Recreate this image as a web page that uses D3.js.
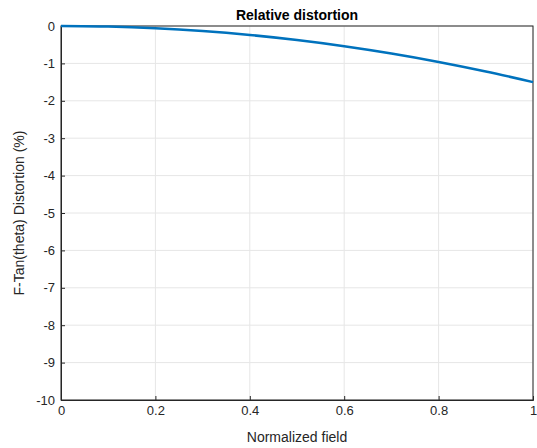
<!DOCTYPE html>
<html><head><meta charset="utf-8">
<script src="https://cdn.jsdelivr.net/npm/d3@7"></script>
<style>body{margin:0;background:#fff}text{font-family:Arial,"Liberation Sans",sans-serif}</style>
</head><body>
<svg id="c" width="537" height="448"></svg>
<script>
var fieldX = [0,0.1,0.2,0.3,0.4,0.5,0.6,0.7,0.8,0.9,1];
var distortion = [0,-0.015,-0.06,-0.135,-0.24,-0.375,-0.54,-0.735,-0.96,-1.215,-1.5];
var xTicks = [0,0.2,0.4,0.6,0.8,1];
var yTicks = [0,-1,-2,-3,-4,-5,-6,-7,-8,-9,-10];

var svg = d3.select('#c');
var L = 61, R = 533, T = 26, B = 400;
var x = d3.scaleLinear().domain([0,1]).range([L,R]);
var y = d3.scaleLinear().domain([-10,0]).range([B,T]);

// grid
svg.append('g').selectAll('line').data(xTicks).enter().append('line')
	.attr('x1',function(d){return x(d);}).attr('x2',function(d){return x(d);})
	.attr('y1',T).attr('y2',B).attr('stroke','#e6e6e6');
svg.append('g').selectAll('line').data(yTicks).enter().append('line')
	.attr('y1',function(d){return y(d);}).attr('y2',function(d){return y(d);})
	.attr('x1',L).attr('x2',R).attr('stroke','#e6e6e6');

var xa = svg.append('g').attr('transform','translate(0,'+B+')')
	.call(d3.axisBottom(x).tickValues(xTicks).tickSize(-4).tickPadding(6).tickFormat(String));
var ya = svg.append('g').attr('transform','translate('+L+',0)')
	.call(d3.axisLeft(y).tickValues(yTicks).tickSize(-4).tickPadding(6).tickFormat(String));
[xa,ya].forEach(function(a){
	a.selectAll('text').attr('font-size',13).attr('fill','#262626');
	a.selectAll('line,path').attr('stroke','#262626');
});
svg.append('rect').attr('x',L).attr('y',T).attr('width',R-L).attr('height',B-T)
	.attr('fill','none').attr('stroke','#262626');

var line = d3.line().x(function(d,i){return x(fieldX[i]);}).y(function(d){return y(d);}).curve(d3.curveMonotoneX);
svg.append('path').attr('d',line(distortion)).attr('fill','none').attr('stroke','#0072bd').attr('stroke-width',2.5);

svg.append('text').attr('x',(L+R)/2).attr('y',20).attr('text-anchor','middle')
	.attr('font-size',14).attr('font-weight','bold').attr('fill','#000').text('Relative distortion');
svg.append('text').attr('x',(L+R)/2).attr('y',442).attr('text-anchor','middle')
	.attr('font-size',14).attr('fill','#262626').text('Normalized field');
svg.append('text').attr('transform','translate(24,'+(T+B)/2+') rotate(-90)').attr('text-anchor','middle')
	.attr('font-size',14).attr('fill','#262626').text('F-Tan(theta) Distortion (%)');
</script>
</body></html>
